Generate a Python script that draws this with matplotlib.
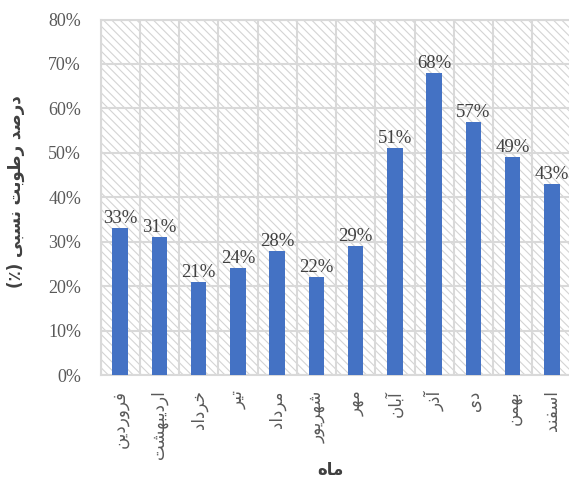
import matplotlib
matplotlib.use("Agg")
import matplotlib.pyplot as plt
from matplotlib.patches import Rectangle
import numpy as np

# Monthly relative humidity (Persian calendar months)
months = ["فروردین", "اردیبهشت", "خرداد", "تیر", "مرداد", "شهریور",
          "مهر", "آبان", "آذر", "دی", "بهمن", "اسفند"]
humidity = [33, 31, 21, 24, 28, 22, 29, 51, 68, 57, 49, 43]
y_ticks = [0, 10, 20, 30, 40, 50, 60, 70, 80]
x_title = "ماه"
y_title = "درصد رطوبت نسبی (٪)"

# --- minimal Arabic-script shaping (presentation forms + visual order) ---
# forms: (isolated, final, initial, medial); None => right-joining only
FORMS = {
    "ا": ("\uFE8D", "\uFE8E", None, None),
    "آ": ("\uFE81", "\uFE82", None, None),
    "د": ("\uFEA9", "\uFEAA", None, None),
    "ذ": ("\uFEAB", "\uFEAC", None, None),
    "ر": ("\uFEAD", "\uFEAE", None, None),
    "و": ("\uFEED", "\uFEEE", None, None),
    "ب": ("\uFE8F", "\uFE90", "\uFE91", "\uFE92"),
    "ت": ("\uFE95", "\uFE96", "\uFE97", "\uFE98"),
    "خ": ("\uFEA5", "\uFEA6", "\uFEA7", "\uFEA8"),
    "س": ("\uFEB1", "\uFEB2", "\uFEB3", "\uFEB4"),
    "ش": ("\uFEB5", "\uFEB6", "\uFEB7", "\uFEB8"),
    "ص": ("\uFEB9", "\uFEBA", "\uFEBB", "\uFEBC"),
    "ط": ("\uFEC1", "\uFEC2", "\uFEC3", "\uFEC4"),
    "ف": ("\uFED1", "\uFED2", "\uFED3", "\uFED4"),
    "م": ("\uFEE1", "\uFEE2", "\uFEE3", "\uFEE4"),
    "ن": ("\uFEE5", "\uFEE6", "\uFEE7", "\uFEE8"),
    "ه": ("\uFEE9", "\uFEEA", "\uFEEB", "\uFEEC"),
    "ی": ("\uFBFC", "\uFBFD", "\uFBFE", "\uFBFF"),
}
MIRROR = {"(": ")", ")": "("}


def shape(text):
    out = []
    n = len(text)
    for i, ch in enumerate(text):
        if ch not in FORMS:
            out.append(ch)
            continue
        prev = text[i - 1] if i > 0 else ""
        nxt = text[i + 1] if i < n - 1 else ""
        link_prev = prev in FORMS and FORMS[prev][2] is not None
        link_next = FORMS[ch][2] is not None and nxt in FORMS
        iso, fin, ini, med = FORMS[ch]
        if link_prev and link_next:
            out.append(med)
        elif link_prev:
            out.append(fin)
        elif link_next:
            out.append(ini)
        else:
            out.append(iso)
    return "".join(MIRROR.get(c, c) for c in reversed(out))


num_font = ["Liberation Serif", "DejaVu Sans"]
fa_font = ["DejaVu Sans"]

plt.rcParams["hatch.linewidth"] = 0.8

fig = plt.figure(figsize=(5.69, 4.79), dpi=100)
ax = fig.add_axes([100.5 / 569, 1 - 375 / 479, 471 / 569, (375 - 19.5) / 479])

# hatched plot-area background
bg = Rectangle((0, 0), 1, 1, transform=ax.transAxes, facecolor="white",
               edgecolor="#d4d4d4", linewidth=0, hatch="\\\\\\\\", zorder=0)
ax.add_patch(bg)

x = np.arange(len(months))
ax.bar(x, np.array(humidity) / 100, width=0.4, color="#4472c4", zorder=3)

for xi, v in zip(x, humidity):
    ax.text(xi, v / 100 + 0.002, f"{v}%", ha="center", va="bottom",
            fontsize=13.5, family=num_font, color="#404040", zorder=4)

ax.set_xlim(-0.5, len(months) - 0.5)
ax.set_ylim(0, 0.8)
ax.set_yticks([t / 100 for t in y_ticks])
ax.set_yticklabels([f"{t}%" for t in y_ticks], family=num_font,
                   fontsize=13, color="#595959")

ax.set_xticks(x)
ax.set_xticklabels([shape(m) for m in months], rotation=90, ha="center",
                   va="top", family=fa_font, fontsize=12, color="#595959")

# vertical grid at category boundaries, horizontal grid at ticks
ax.set_xticks(np.arange(len(months) + 1) - 0.5, minor=True)
ax.grid(True, which="minor", axis="x", color="#d9d9d9", linewidth=1.5, zorder=1)
ax.grid(True, which="major", axis="y", color="#d9d9d9", linewidth=1.5, zorder=1)
ax.tick_params(axis="both", which="both", length=0)
ax.tick_params(axis="y", pad=14)
ax.tick_params(axis="x", pad=11)
ax.set_axisbelow(True)

for s in ax.spines.values():
    s.set_color("#d9d9d9")
    s.set_linewidth(1.5)

fig.text(330 / 569, 1 - 470 / 479, shape(x_title), ha="center", va="center",
         family=fa_font, fontsize=12, fontweight="bold", color="#404040")
fig.text(16 / 569, 1 - 192 / 479, shape(y_title), ha="center", va="center",
         rotation=90, family=fa_font, fontsize=12, fontweight="bold",
         color="#404040")

fig.savefig("out.png", dpi=100)
